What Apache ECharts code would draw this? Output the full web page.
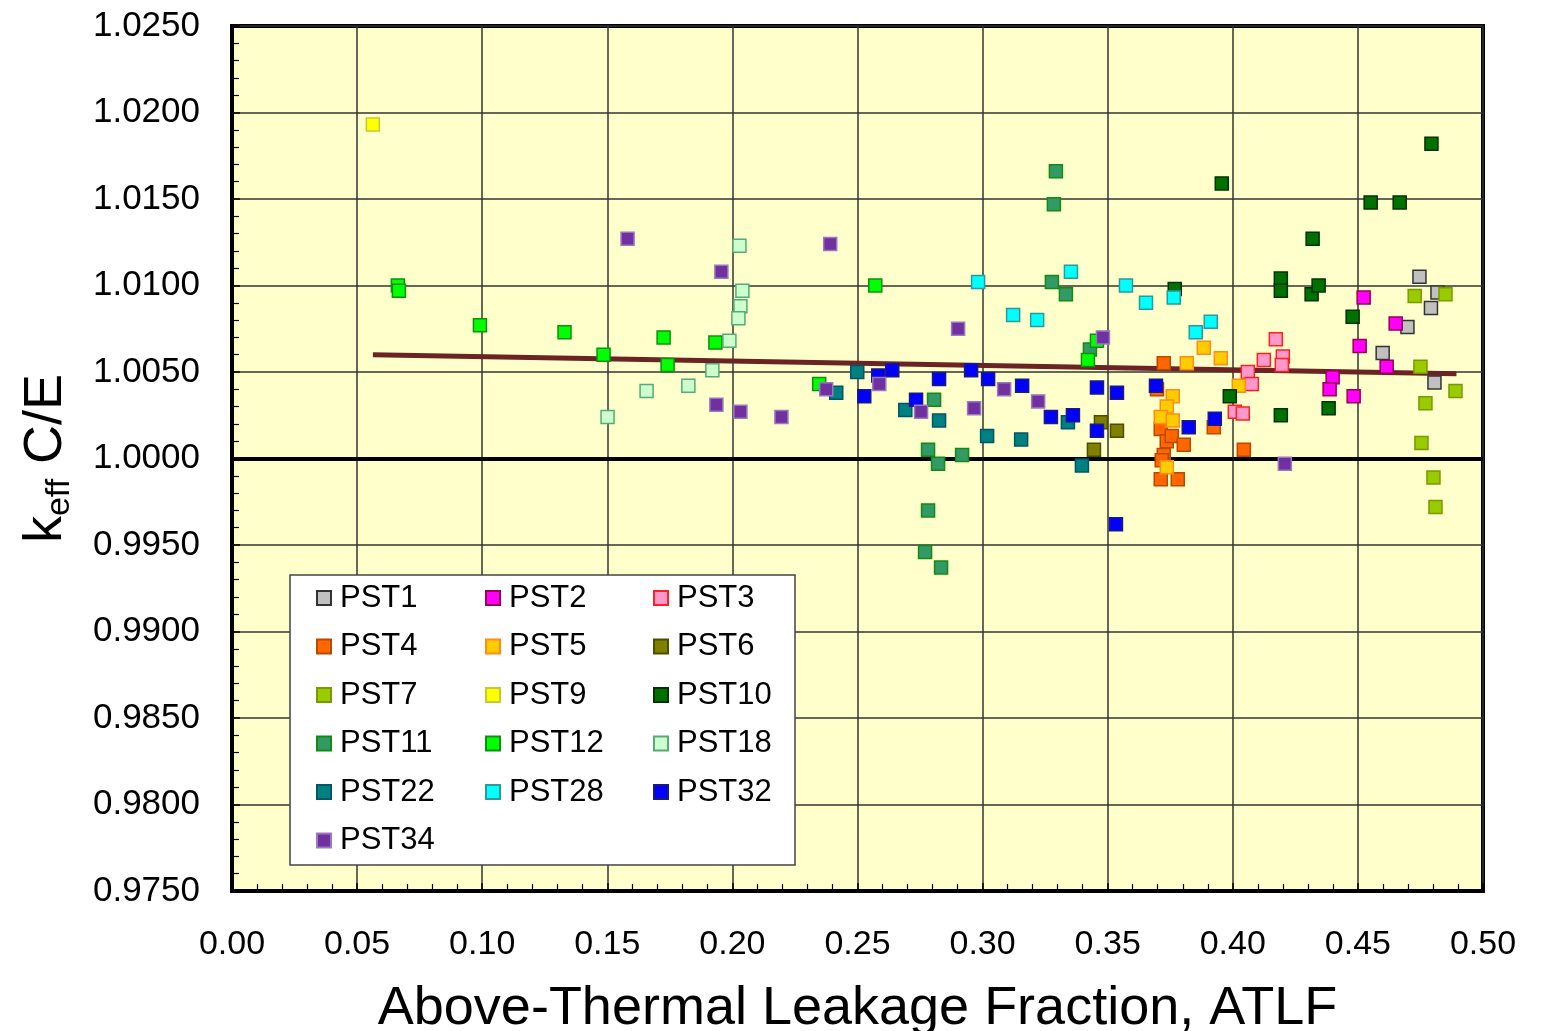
<!DOCTYPE html>
<html><head><meta charset="utf-8">
<script src="https://cdn.jsdelivr.net/npm/echarts@6/dist/echarts.min.js"></script>
<style>html,body{margin:0;padding:0;background:#fff}#c{width:1547px;height:1031px}</style>
</head><body><div id="c"></div>
<script>
var xTicks = ['0.00','0.05','0.10','0.15','0.20','0.25','0.30','0.35','0.40','0.45','0.50'];
var yTicks = ['0.9750','0.9800','0.9850','0.9900','0.9950','1.0000','1.0050','1.0100','1.0150','1.0200','1.0250'];

var pst1 = [[0.4746,1.0105],[0.4818,1.0096],[0.4792,1.0087],[0.4698,1.0076],[0.4599,1.0061],[0.4806,1.0044]];
var pst2 = [[0.4523,1.0093],[0.4651,1.0078],[0.4507,1.0065],[0.4615,1.0053],[0.4399,1.0047],[0.4387,1.0040],[0.4483,1.0036]];
var pst3 = [[0.4172,1.0069],[0.4124,1.0057],[0.4200,1.0059],[0.4196,1.0054],[0.4060,1.0050],[0.4076,1.0043],[0.4008,1.0027],[0.4040,1.0026]];
var pst4 = [[0.3724,1.0055],[0.3697,1.0040],[0.3712,1.0017],[0.3736,1.0010],[0.3756,1.0013],[0.3804,1.0008],[0.3724,1.0002],[0.3716,0.9999],[0.3712,0.9988],[0.3780,0.9988],[0.4044,1.0005],[0.3924,1.0018]];
var pst5 = [[0.3884,1.0064],[0.3952,1.0058],[0.3816,1.0055],[0.4024,1.0042],[0.3760,1.0036],[0.3736,1.0030],[0.3712,1.0024],[0.3760,1.0022],[0.3736,0.9995]];
var pst6 = [[0.3473,1.0021],[0.3537,1.0016],[0.3445,1.0005]];
var pst7 = [[0.4727,1.0094],[0.4850,1.0095],[0.4750,1.0053],[0.4890,1.0039],[0.4770,1.0032],[0.4754,1.0009],[0.4802,0.9989],[0.4810,0.9972]];
var pst9 = [[0.0563,1.0193]];
var pst10 = [[0.3956,1.0159],[0.4794,1.0182],[0.4551,1.0148],[0.4667,1.0148],[0.4319,1.0127],[0.4192,1.0104],[0.4192,1.0097],[0.4315,1.0095],[0.4343,1.0100],[0.4479,1.0082],[0.3988,1.0036],[0.4192,1.0025],[0.4383,1.0029],[0.3768,1.0098]];
var pst11 = [[0.3293,1.0166],[0.3285,1.0147],[0.3277,1.0102],[0.3333,1.0095],[0.3429,1.0063],[0.2806,1.0034],[0.2782,1.0005],[0.2822,0.9997],[0.2918,1.0002],[0.2782,0.9970],[0.2770,0.9946],[0.2834,0.9937]];
var pst12 = [[0.0663,1.0100],[0.0667,1.0097],[0.0991,1.0077],[0.1329,1.0073],[0.1485,1.0060],[0.1725,1.0070],[0.1741,1.0054],[0.1932,1.0067],[0.2347,1.0043],[0.2571,1.0100],[0.3421,1.0057],[0.3457,1.0068]];
var pst18 = [[0.2028,1.0123],[0.2040,1.0097],[0.2032,1.0088],[0.2024,1.0081],[0.1988,1.0068],[0.1920,1.0051],[0.1824,1.0042],[0.1657,1.0039],[0.1501,1.0024]];
var pst22 = [[0.2499,1.0050],[0.2415,1.0038],[0.2691,1.0028],[0.2826,1.0022],[0.3018,1.0013],[0.3154,1.0011],[0.3341,1.0021],[0.3397,0.9996]];
var pst28 = [[0.2982,1.0102],[0.3122,1.0083],[0.3218,1.0080],[0.3353,1.0108],[0.3573,1.0100],[0.3653,1.0090],[0.3764,1.0093],[0.3852,1.0073],[0.3912,1.0079]];
var pst32 = [[0.2583,1.0048],[0.2639,1.0051],[0.2527,1.0036],[0.2826,1.0046],[0.2954,1.0051],[0.2734,1.0034],[0.3022,1.0046],[0.3158,1.0042],[0.3273,1.0024],[0.3361,1.0025],[0.3457,1.0041],[0.3537,1.0038],[0.3457,1.0016],[0.3533,0.9962],[0.3693,1.0042],[0.3824,1.0018],[0.3928,1.0023]];
var pst34 = [[0.1581,1.0127],[0.1956,1.0108],[0.2391,1.0124],[0.1936,1.0031],[0.2032,1.0027],[0.2196,1.0024],[0.2375,1.0040],[0.2587,1.0043],[0.2754,1.0027],[0.2902,1.0075],[0.2966,1.0029],[0.3086,1.0040],[0.3222,1.0033],[0.3481,1.0070],[0.4208,0.9997]];
var fitLine = [[0.0563,1.0060],[0.4894,1.0049]];

var seriesNames = ['PST1','PST2','PST3','PST4','PST5','PST6','PST7','PST9','PST10','PST11','PST12','PST18','PST22','PST28','PST32','PST34'];
var seriesData = [pst1,pst2,pst3,pst4,pst5,pst6,pst7,pst9,pst10,pst11,pst12,pst18,pst22,pst28,pst32,pst34];
var fills = ['#c0c0c0','#ff00ff','#ff99cc','#ff6600','#ffcc00','#808000','#99cc00','#ffff00','#007000','#339966','#00ff00','#ccffcc','#008080','#00ffff','#0000ff','#7030a0'];
var borders = ['#333333','#99004d','#ff2020','#b84a00','#ff8c1a','#4d4d00','#7a9900','#c8c832','#003300','#138a13','#109010','#55aa77','#005566','#2a9a9a','#1a1a80','#9a78c0'];

var font = 'Liberation Sans, Arial, sans-serif';
var series = [{
  type:'line', data: fitLine, symbol:'none', z:1,
  lineStyle:{color:'#6b2424', width:5}, silent:true,
  markLine:{symbol:'none', silent:true, label:{show:false},
    lineStyle:{color:'#000', width:4, type:'solid'}, data:[{yAxis:1.0}]}
}];
for (var i=0;i<seriesNames.length;i++){
  series.push({name:seriesNames[i], type:'scatter', symbol:'rect', symbolSize:13, z:3+i,
    data: seriesData[i],
    itemStyle:{color:fills[i], borderColor:borders[i], borderWidth:1.5, opacity:1}});
}
function legendCol(names, left){
  return {orient:'vertical', left:left, top:582, data:names, icon:'rect', itemWidth:14, itemHeight:14,
    itemGap:16.5, padding:0, textStyle:{fontFamily:font, fontSize:31, color:'#000', lineHeight:32, padding:[0,0,0,4]}};
}
var chart = echarts.init(document.getElementById('c'), null, {renderer:'canvas'});
chart.setOption({
  animation:false,
  backgroundColor:'#fff',
  grid:{left:232, right:64, top:26, bottom:140, show:true, backgroundColor:'#ffffcc', borderColor:'#000', borderWidth:4, containLabel:false, outerBoundsMode:'none'},
  xAxis:{type:'value', min:0, max:0.5, interval:0.05,
    name:'Above-Thermal Leakage Fraction, ATLF', nameLocation:'middle', nameGap:91,
    nameTextStyle:{fontFamily:font, fontSize:54, color:'#000'},
    axisLine:{show:true, onZero:false, lineStyle:{color:'#000', width:4}},
    axisTick:{show:true, inside:true, length:8, lineStyle:{color:'#000', width:1.5}},
    minorTick:{show:true, splitNumber:5, length:7, lineStyle:{color:'#000', width:1.2}},
    splitLine:{show:true, lineStyle:{color:'#333', width:1.5}},
    axisLabel:{margin:37, fontFamily:font, fontSize:34, color:'#000', formatter:function(v){return xTicks[Math.round(v/0.05)];}}
  },
  yAxis:{type:'value', min:0.975, max:1.025, interval:0.005,
    name:'{a|k}{b|eff}{a| C/E}', nameLocation:'middle', nameGap:155, nameRotate:90,
    nameTextStyle:{rich:{a:{fontFamily:font, fontSize:54, color:'#000', lineHeight:62}, b:{fontFamily:font, fontSize:34, color:'#000', lineHeight:62, verticalAlign:'bottom', padding:[20,0,0,0]}}},
    axisLine:{show:true, onZero:false, lineStyle:{color:'#000', width:4}},
    axisTick:{show:true, inside:true, length:8, lineStyle:{color:'#000', width:1.5}},
    minorTick:{show:true, splitNumber:5, length:7, lineStyle:{color:'#000', width:1.2}},
    splitLine:{show:true, lineStyle:{color:'#333', width:1.5}},
    axisLabel:{margin:32, fontFamily:font, fontSize:35, color:'#000', formatter:function(v){return yTicks[Math.round((v-0.975)/0.005)];}}
  },
  legend:[
    legendCol(['PST1','PST4','PST7','PST11','PST22','PST34'], 316),
    legendCol(['PST2','PST5','PST9','PST12','PST28'], 485),
    legendCol(['PST3','PST6','PST10','PST18','PST32'], 653)
  ],
  graphic:[{type:'rect', z:3, shape:{x:290, y:575, width:505, height:290},
    style:{fill:'#fff', stroke:'#444', lineWidth:1.5}}],
  series: series
});
</script></body></html>
